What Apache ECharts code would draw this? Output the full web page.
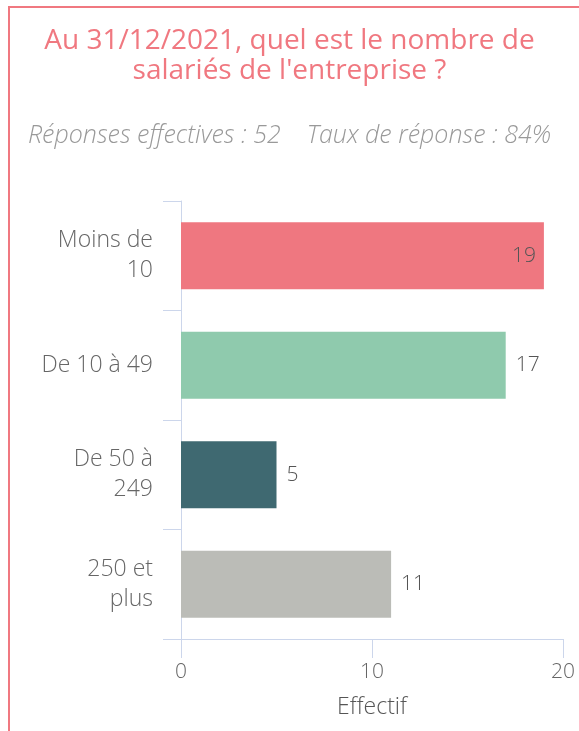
<!DOCTYPE html>
<html lang="fr">
<head>
    <meta charset="UTF-8">
    <title>Salariés</title>
    <script src="https://cdn.jsdelivr.net/npm/echarts@6/dist/echarts.min.js"></script>
    <style>
        html, body { margin: 0; padding: 0; background: #fff; }
    </style>
</head>
<body>
<div id="chart" style="width: 579px; height: 731px;"></div>
<script>
    var categories = ['Moins de\n10', 'De 10 à 49', 'De 50 à\n249', '250 et\nplus'];
    var values = [19, 17, 5, 11];
    var barColors = ['#EF7780', '#8FCAAD', '#3F6971', '#BBBCB7'];
    var xTicks = [0, 10, 20];

    var chart = echarts.init(document.getElementById('chart'));

    var barData = values.map(function (v, i) {
        var d = { value: v, itemStyle: { color: barColors[i] } };
        // the longest bar carries its label inside
        if (i === 0) {
            d.label = { position: 'insideRight', distance: 8 };
        }
        return d;
    });

    var option = {
        animation: false,
        textStyle: { fontFamily: 'Open Sans' },
        title: [{
            text: 'Au 31/12/2021, quel est le nombre de\nsalariés de l\'entreprise ?',
            left: 'center',
            top: 21,
            textStyle: {
                color: '#F07880',
                fontSize: 28,
                fontWeight: 'normal',
                lineHeight: 30,
                fontFamily: 'Open Sans'
            }
        }, {
            text: 'Réponses effectives : 52    Taux de réponse : 84%',
            left: 'center',
            top: 118,
            textStyle: {
                color: '#999',
                fontSize: 25,
                fontStyle: 'italic',
                fontWeight: 300,
                fontFamily: 'Open Sans'
            }
        }],
        graphic: [{
            type: 'rect',
            shape: { x: 9, y: 7, width: 700, height: 800 },
            style: { fill: 'none', stroke: '#F07880', lineWidth: 2 },
            silent: true
        }],
        grid: {
            left: 181,
            right: 16,
            top: 201,
            bottom: 92,
            containLabel: false
        },
        xAxis: {
            type: 'value',
            min: xTicks[0],
            max: xTicks[xTicks.length - 1],
            interval: 10,
            name: 'Effectif',
            nameLocation: 'middle',
            nameGap: 57,
            nameTextStyle: { color: '#555', fontSize: 23, fontWeight: 300 },
            axisLine: { show: true, lineStyle: { color: '#ccd6eb', width: 1 } },
            axisTick: { show: true, length: 19, lineStyle: { color: '#ccd6eb' } },
            axisLabel: { color: '#666', fontSize: 21, fontWeight: 300, margin: 23 },
            splitLine: { show: false }
        },
        yAxis: {
            type: 'category',
            inverse: true,
            data: categories,
            axisLine: { show: true, lineStyle: { color: '#ccd6eb', width: 1 } },
            axisTick: { show: true, length: 18, lineStyle: { color: '#ccd6eb' } },
            axisLabel: {
                color: '#666',
                fontSize: 23,
                fontWeight: 300,
                lineHeight: 30,
                margin: 28,
                padding: [7, 0, 0, 0],
                align: 'right'
            }
        },
        series: [{
            type: 'bar',
            data: barData,
            barCategoryGap: '39%',
            label: {
                show: true,
                position: 'right',
                distance: 10,
                color: '#555',
                fontSize: 21,
                fontWeight: 300
            }
        }]
    };
    chart.setOption(option);
</script>
</body>
</html>
